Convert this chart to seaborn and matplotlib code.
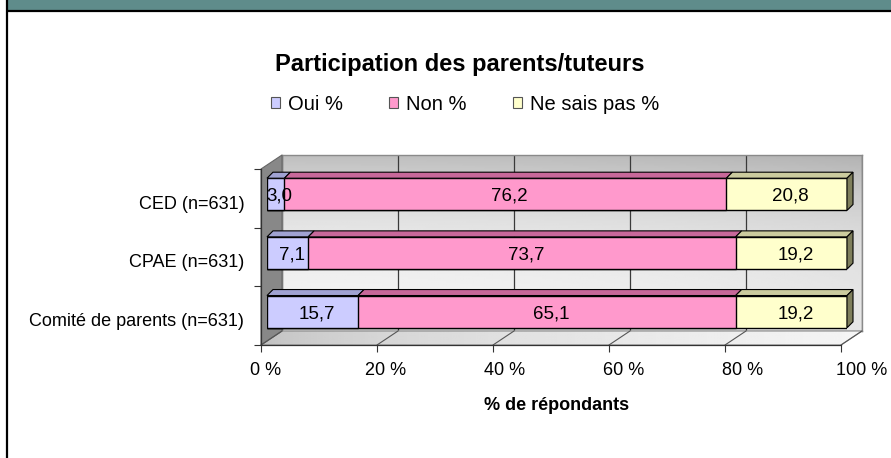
import matplotlib
matplotlib.use("Agg")
import matplotlib.pyplot as plt
from matplotlib.patches import Polygon, Rectangle, Patch
from matplotlib.lines import Line2D
import numpy as np
import pandas as pd
import seaborn as sns

# data
categories = ["CED (n=631)", "CPAE (n=631)", "Comité de parents (n=631)"]
oui = [3.0, 7.1, 15.7]
non = [76.2, 73.7, 65.1]
nsp = [20.8, 19.2, 19.2]
series_names = ["Oui %", "Non %", "Ne sais pas %"]
x_ticks = [0, 20, 40, 60, 80, 100]
x_tick_labels = ["0 %", "20 %", "40 %", "60 %", "80 %", "100 %"]

front_cols = ["#ccccff", "#ff99cc", "#ffffcc"]
top_cols = ["#a0a2d2", "#c8689a", "#cbcb9e"]
side_col = "#7f7f5c"

W, H = 891, 458
sns.set_theme(style="white")
plt.rcParams["font.family"] = ["Liberation Sans", "DejaVu Sans"]
plt.rcParams.update({"text.color": "black", "xtick.color": "black",
                     "ytick.color": "black", "axes.labelcolor": "black"})

fig = plt.figure(figsize=(W / 100, H / 100), dpi=100)


def box(x0, y0, x1, y1):
    # pixel box (top-left origin) -> figure rect
    return [x0 / W, 1 - y1 / H, (x1 - x0) / W, (y1 - y0) / H]


def pt(x, y):
    return (x / W, 1 - y / H)


# front plane of the 3D box, depth offset, bar offset (pixels)
FX0, FY0, FX1, FY1 = 261, 169, 841, 345
DX, DY = 21, 14
BX, BY = 6, 4
FACE = 6

# header strip and frame
fig.add_artist(Rectangle(pt(8, 10), (W - 8) / W, 10 / H, transform=fig.transFigure,
                         facecolor="#5f8c8b", lw=0, zorder=0))
fig.add_artist(Line2D([8 / W, 1], [1 - 11 / H] * 2, color="black", lw=1.6))
fig.add_artist(Line2D([7 / W] * 2, [0, 1], color="black", lw=1.6))

# back wall
ax_back = fig.add_axes(box(FX0 + DX, FY0 - DY, FX1 + DX, FY1 - DY), zorder=0)
xx, yy = np.meshgrid(np.linspace(0, 1, 200), np.linspace(0, 1, 100))
shade = 0.95 - 0.2 * yy ** 2.5 - 0.05 * xx ** 2
ax_back.imshow(shade, cmap="gray", vmin=0, vmax=1, extent=(0, 100, 0, 1),
               origin="lower", aspect="auto")
ax_back.set_xlim(0, 100)
ax_back.set_ylim(0, 1)
ax_back.set_xticks(x_ticks)
ax_back.set_yticks([])
ax_back.tick_params(length=0, labelbottom=False)
ax_back.grid(axis="x", color="#3a3a3a", lw=0.9)
for s in ax_back.spines.values():
    s.set_color("#8a8a8a")
    s.set_linewidth(1)

# left wall
fig.add_artist(Polygon([pt(FX0, FY0), pt(FX0 + DX, FY0 - DY), pt(FX0 + DX, FY1 - DY), pt(FX0, FY1)],
                       closed=True, transform=fig.transFigure, facecolor="#888888",
                       edgecolor="#666666", lw=0.8, zorder=0.5))

# floor with a light gradient
ax_floor = fig.add_axes(box(FX0, FY1 - DY, FX1 + DX, FY1), zorder=0.4)
ax_floor.set_axis_off()
fx, fy = np.meshgrid(np.linspace(0, 1, 200), np.linspace(0, 1, 20))
img = ax_floor.imshow(0.74 + 0.22 * np.sqrt(fx), cmap="gray", vmin=0, vmax=1,
                      extent=(0, 1, 0, 1), origin="lower", aspect="auto")
ax_floor.set_xlim(0, 1)
ax_floor.set_ylim(0, 1)
fw = FX1 + DX - FX0
floor_clip = Polygon([(0, 0), ((FX1 - FX0) / fw, 0), (1, 1), (DX / fw, 1)],
                     closed=True, transform=ax_floor.transAxes, facecolor="none",
                     edgecolor="#8a8a8a", lw=0.8, clip_on=False)
ax_floor.add_patch(floor_clip)
img.set_clip_path(floor_clip)
for t in x_ticks:
    xf = FX0 + (FX1 - FX0) * t / 100
    fig.add_artist(Line2D([pt(xf, FY1)[0], pt(xf + DX, FY1 - DY)[0]],
                          [pt(xf, FY1)[1], pt(xf + DX, FY1 - DY)[1]],
                          color="#555555", lw=0.8, zorder=0.6))

# front axes: ticks and spines
ax_front = fig.add_axes(box(FX0, FY0, FX1, FY1), zorder=1)
ax_front.patch.set_alpha(0)
ax_front.set_xlim(0, 100)
ax_front.set_ylim(2.5, -0.5)
ax_front.set_xticks(x_ticks)
ax_front.set_yticks([])
ax_front.set_yticks([-0.5, 0.5, 1.5, 2.5], minor=True)
ax_front.tick_params(axis="x", bottom=True, length=5, width=0.8, color="#333333",
                     labelbottom=False)
ax_front.tick_params(axis="y", which="minor", left=True, length=5, width=0.8, color="#333333")
for side in ["top", "right"]:
    ax_front.spines[side].set_visible(False)
for side in ["left", "bottom"]:
    ax_front.spines[side].set_color("#333333")
    ax_front.spines[side].set_linewidth(0.9)

# tick labels (spread slightly wider than the axis, like the original)
ax_xlab = fig.add_axes(box(FX0 + 5, FY0, FX0 + 601, FY1), zorder=1)
ax_xlab.patch.set_alpha(0)
for s in ax_xlab.spines.values():
    s.set_visible(False)
ax_xlab.set_xlim(0, 100)
ax_xlab.set_xticks(x_ticks)
ax_xlab.set_xticklabels(x_tick_labels, fontsize=13)
ax_xlab.set_yticks([])
ax_xlab.tick_params(axis="x", bottom=True, length=0, pad=12)

ax_ylab = fig.add_axes(box(FX0, FY0 + 4, FX1, FY1 + 4), zorder=1)
ax_ylab.patch.set_alpha(0)
for s in ax_ylab.spines.values():
    s.set_visible(False)
ax_ylab.set_ylim(2.5, -0.5)
ax_ylab.set_yticks(range(len(categories)))
ax_ylab.set_yticklabels(categories, fontsize=13)
ax_ylab.set_xticks([])
ax_ylab.tick_params(axis="y", left=True, length=0, pad=12)

# bars (stacked by overlapping cumulative sums)
df = pd.DataFrame({"categorie": categories, "oui": oui, "non": non, "nsp": nsp})
df["cum_non"] = df["oui"] + df["non"]
df["total"] = df["cum_non"] + df["nsp"]

ax_bars = fig.add_axes(box(FX0 + BX, FY0 - BY, FX1 + BX, FY1 - BY), zorder=2)
width = 0.55
for col, c in zip(["total", "cum_non", "oui"], front_cols[::-1]):
    sns.barplot(data=df, x=col, y="categorie", orient="y", color=c, saturation=1,
                edgecolor="black", linewidth=1, width=width, ax=ax_bars)
ax_bars.set_xlim(0, 100)
ax_bars.set_ylim(2.5, -0.5)
ax_bars.set_axis_off()

dx = FACE * 100 / (FX1 - FX0)
dy = FACE * 3 / (FY1 - FY0)
for i, row in df.iterrows():
    edges = [0, row["oui"], row["cum_non"], row["total"]]
    vals = [row["oui"], row["non"], row["nsp"]]
    yt, yb = i - width / 2, i + width / 2
    for k in range(3):
        a, b = edges[k], edges[k + 1]
        ax_bars.add_patch(Polygon([(a, yt), (b, yt), (b + dx, yt - dy), (a + dx, yt - dy)],
                                  closed=True, facecolor=top_cols[k], edgecolor="black",
                                  lw=0.8, clip_on=False))
        ax_bars.annotate(f"{vals[k]:.1f}".replace(".", ","), ((a + b) / 2, i),
                         xytext=(4, -2), textcoords="offset pixels",
                         ha="center", va="center", fontsize=13.5, color="black")
    e = edges[-1]
    ax_bars.add_patch(Polygon([(e, yt), (e + dx, yt - dy), (e + dx, yb - dy), (e, yb)],
                              closed=True, facecolor=side_col, edgecolor="black",
                              lw=0.8, clip_on=False))

# title, legend, axis label
fig.text(*pt(460, 65), "Participation des parents/tuteurs", ha="center", va="center",
         fontsize=17, weight="bold")
handles = [Patch(facecolor=c, edgecolor="#555555", lw=0.8) for c in front_cols]
fig.legend(handles, series_names, loc="center", bbox_to_anchor=pt(465, 104), ncol=3,
           frameon=False, fontsize=14.5, handlelength=0.45, handleheight=0.45,
           handletextpad=0.4, columnspacing=2.3)
fig.text(*pt(557, 405), "% de répondants", ha="center", va="center",
         fontsize=13, weight="bold")

fig.savefig("out.png", dpi=100)
